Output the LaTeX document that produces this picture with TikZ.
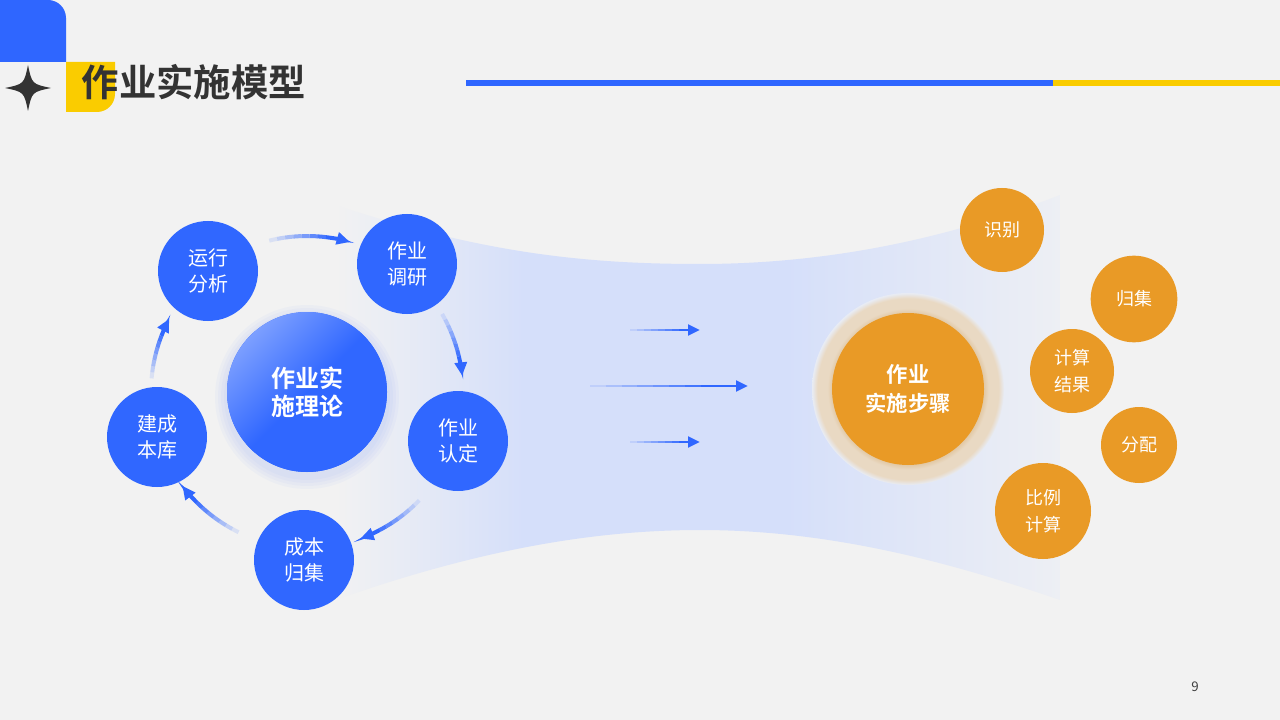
\documentclass[tikz,border=0pt]{standalone}
\usepackage{fontspec}
\newfontfamily\cjk{Noto Sans CJK SC}[BoldFont={Noto Sans CJK SC Bold}]
\usetikzlibrary{arrows.meta}

\definecolor{bgc}{HTML}{F2F2F2}
\definecolor{mainblue}{HTML}{3067FF}
\definecolor{lightblue}{HTML}{7C9FFF}
\definecolor{barblue}{HTML}{2F66FF}
\definecolor{baryellow}{HTML}{FACC00}
\definecolor{mainorange}{HTML}{E99A26}
\definecolor{haloc}{HTML}{E9D9C3}
\definecolor{halodark}{HTML}{E2C9A6}
\definecolor{halobg}{HTML}{E8ECF5}
\definecolor{funnelc}{HTML}{D5DFFA}
\definecolor{funnelend}{HTML}{EDEFF4}
\definecolor{titlec}{HTML}{333333}
\definecolor{pagec}{HTML}{404040}

\pgfdeclarehorizontalshading{funnelshade}{100bp}{color(0bp)=(bgc); color(25bp)=(bgc); color(38bp)=(funnelc); color(56bp)=(funnelc); color(75bp)=(funnelend); color(100bp)=(funnelend)}
\pgfdeclareradialshading{haloshade}{\pgfpoint{0bp}{0bp}}{color(0bp)=(halodark); color(19.8bp)=(halodark); color(21bp)=(haloc); color(23.6bp)=(haloc); color(25bp)=(halobg); color(50bp)=(halobg)}

\begin{document}
\begin{tikzpicture}[x=0.75pt, y=-0.75pt,
  bluenode/.style={circle, fill=mainblue, minimum size=75pt, inner sep=0pt, text=white, align=center, font=\cjk\fontsize{15}{20}\selectfont},
  orangenode/.style={circle, fill=mainorange, inner sep=0pt, text=white, align=center, font=\cjk\fontsize{13.5}{20}\selectfont},
  cyclearc/.style={mainblue, line width=3pt},
  flowline/.style={mainblue, line width=2.2pt}]

  % Background
  \fill[bgc] (0,0) rectangle (1280,720);

  % Corner marks
  \fill[barblue] (0,0) -- (48,0) arc[start angle=-90, end angle=0, radius=18] -- (66,62) -- (0,62) -- cycle;
  \fill[baryellow] (66,62) -- (115,62) -- (115,94) arc[start angle=0, end angle=90, radius=18] -- (66,112) -- cycle;
  \fill[titlec] (28,65) .. controls (32,84) .. (51,88) .. controls (32,92) .. (28,111) .. controls (24,92) .. (5,88) .. controls (24,84) .. (28,65) -- cycle;

  % Title and divider
  \node[anchor=west, text=titlec, font=\cjk\bfseries\fontsize{28}{28}\selectfont] (title) at (77,82) {作业实施模型};
  \fill[barblue] (466,80) rectangle (1053,86);
  \fill[baryellow] (1053,80) rectangle (1280,86);

  % Funnel
  \shade[shading=funnelshade] (335,205) .. controls (480,252) and (580,264) .. (700,264) .. controls (830,264) and (950,238) .. (1060,195) -- (1060,600) .. controls (950,562) and (830,530) .. (700,530) .. controls (570,530) and (450,560) .. (335,600) -- cycle;

  % Flow arrows
  \foreach \ya/\xa/\xb in {330/630/700, 386/590/748, 442/630/700} {
    \foreach \k [evaluate=\k as \pa using \xa+(\xb-\xa)*(\k-1)/10, evaluate=\k as \pb using \xa+(\xb-\xa)*\k/10, evaluate=\k as \op using \k/8] in {1,...,7} {
      \draw[flowline, opacity=\op] (\pa,\ya) -- (\pb,\ya);
    }
    \draw[flowline, -{Triangle[length=9pt, width=8pt]}] ({\xa+(\xb-\xa)*0.7},\ya) -- (\xb,\ya);
  }

  % Glow and halo
  \foreach \r in {3,6,...,12} {
    \fill[mainblue, opacity=0.03] (307,397) circle ({80+\r});
  }
  \shade[shading=haloshade] (908,389) circle (96);

  % Cycle nodes
  \node[bluenode] (yunxing) at (208,271) {运行\\分析};
  \node[bluenode] (diaoyan) at (407,264) {作业\\调研};
  \node[bluenode] (rending) at (458,441) {作业\\认定};
  \node[bluenode] (guiji) at (304,560) {成本\\归集};
  \node[bluenode] (jianku) at (157,437) {建成\\本库};
  \node[bluenode, minimum size=120pt, top color=lightblue, bottom color=mainblue, middle color=mainblue, shading angle=45, font=\cjk\bfseries\fontsize{18}{21}\selectfont] (lilun) at (307,392) {作业实\\施理论};

  % Step nodes
  \node[orangenode, minimum size=114pt, font=\cjk\bfseries\fontsize{16}{22}\selectfont] (buzhou) at (908,389) {作业\\实施步骤};
  \node[orangenode, minimum size=63pt] (shibie) at (1002,230) {识别};
  \node[orangenode, minimum size=65pt] (guijistep) at (1134,299) {归集};
  \node[orangenode, minimum size=63pt] (jieguo) at (1072,371) {计算\\结果};
  \node[orangenode, minimum size=57pt] (fenpei) at (1139,445) {分配};
  \node[orangenode, minimum size=72pt] (bili) at (1043,511) {比例\\计算};

  % Cycle arrows
  \foreach \s/\e [evaluate=\s as \m using \s+(\e-\s)*0.7] in {-104/-74, -30/-6, 44/70, 116/143, -175/-152} {
    \foreach \k [evaluate=\k as \pa using \s+(\e-\s)*(\k-1)/10, evaluate=\k as \pb using \s+(\e-\s)*\k/10, evaluate=\k as \op using \k/8] in {1,...,7} {
      \draw[cyclearc, opacity=\op] (lilun.center) ++(\pa:156) arc[start angle=\pa, end angle=\pb, radius=156];
    }
    \draw[cyclearc, -{Triangle[length=10pt, width=9pt]}] (lilun.center) ++(\m:156) arc[start angle=\m, end angle=\e, radius=156];
  }

  % Page number
  \node[text=pagec, font=\cjk\fontsize{10}{10}\selectfont] (yema) at (1195,687) {9};
\end{tikzpicture}
\end{document}
